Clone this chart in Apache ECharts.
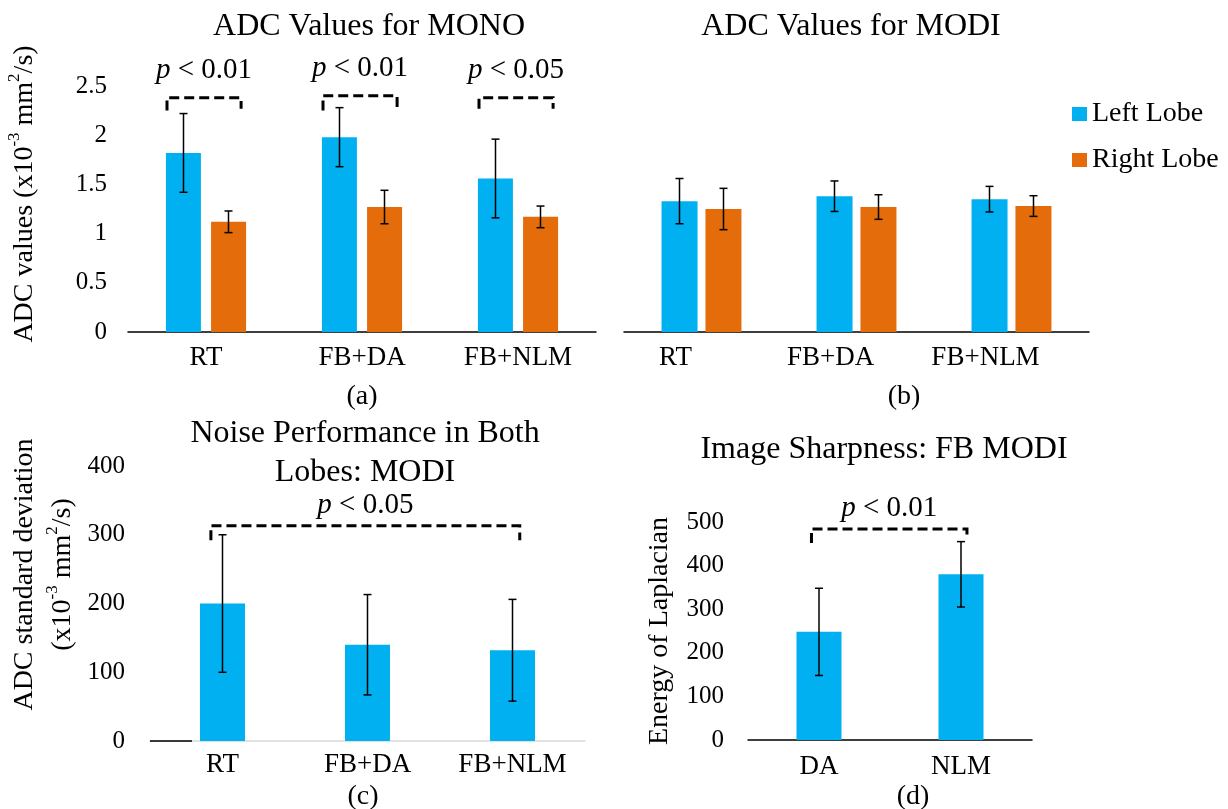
<!DOCTYPE html>
<html lang="en">
<head>
  <meta charset="UTF-8">
  <title>ADC Values, Noise and Sharpness</title>
  <script src="https://cdn.jsdelivr.net/npm/echarts@6/dist/echarts.min.js"></script>
  <style>
    html, body { margin: 0; padding: 0; background: #fff; }
    #chart { width: 1228px; height: 809px; }
  </style>
</head>
<body>
  <div id="chart"></div>

<script>
  // data
  const methods = ['RT', 'FB+DA', 'FB+NLM']
  const monoLeft = [1.82, 1.98, 1.56]
  const monoLeftSd = [0.40, 0.30, 0.40]
  const monoRight = [1.12, 1.27, 1.17]
  const monoRightSd = [0.11, 0.17, 0.11]
  const modiLeft = [1.33, 1.38, 1.35]
  const modiLeftSd = [0.23, 0.155, 0.13]
  const modiRight = [1.25, 1.27, 1.28]
  const modiRightSd = [0.21, 0.125, 0.105]
  const noiseVals = [200, 140, 132]
  const noiseSd = [100, 73, 74]
  const sharpCats = ['DA', 'NLM']
  const sharpVals = [248, 380]
  const sharpSd = [100, 75]

  // brackets: [fromCat, toCat, top, leftLegEnd, rightLegEnd]
  const monoBrackets = [[0, 0, 2.38, 2.25, 2.27], [1, 1, 2.40, 2.25, 2.28], [2, 2, 2.38, 2.27, 2.27]]
  const monoP = ['0.01', '0.01', '0.05']
  const noiseBrackets = [[0, 2, 313, 292, 292]]
  const noiseP = ['0.05']
  const sharpBrackets = [[0, 1, 484, 452, 466]]
  const sharpP = ['0.01']

  const FONT = "'Liberation Serif', 'Times New Roman', serif"
  const BLUE = '#00B0F0'
  const ORANGE = '#E46C0A'

  function errData(vals, sd) {
    return vals.map((v, i) => [i, v - sd[i], v + sd[i]])
  }

  function errorBars(offset) {
    return function (params, api) {
      const i = api.value(0)
      const lo = api.coord([i, api.value(1)])
      const hi = api.coord([i, api.value(2)])
      const x = lo[0] + offset
      const st = { stroke: '#000', lineWidth: 1.5 }
      return {
        type: 'group',
        children: [
          { type: 'line', shape: { x1: x, y1: lo[1], x2: x, y2: hi[1] }, style: st },
          { type: 'line', shape: { x1: x - 4, y1: lo[1], x2: x + 4, y2: lo[1] }, style: st },
          { type: 'line', shape: { x1: x - 4, y1: hi[1], x2: x + 4, y2: hi[1] }, style: st }
        ]
      }
    }
  }

  function brackets(labels, offL, offR, gap) {
    return function (params, api) {
      const band = api.size([1, 0])[0]
      const pL = api.coord([api.value(0), api.value(2)])
      const pR = api.coord([api.value(1), api.value(2)])
      const xL = pL[0] + offL * band
      const xR = pR[0] + offR * band
      const yTop = pL[1]
      const yL = api.coord([api.value(0), api.value(3)])[1]
      const yR = api.coord([api.value(1), api.value(4)])[1]
      return {
        type: 'group',
        children: [
          {
            type: 'polyline',
            shape: { points: [[xL, yL], [xL, yTop], [xR, yTop], [xR, yR]] },
            style: { stroke: '#000', lineWidth: 3, lineDash: [10, 5], fill: null }
          },
          {
            type: 'text',
            x: (xL + xR) / 2,
            y: yTop - gap,
            style: {
              text: '{i|p}{n| < ' + labels[params.dataIndex] + '}',
              rich: {
                i: { fontStyle: 'italic', fontSize: 29, fontFamily: FONT, fill: '#000' },
                n: { fontSize: 29, fontFamily: FONT, fill: '#000' }
              },
              align: 'center',
              verticalAlign: 'middle'
            }
          }
        ]
      }
    }
  }

  const richName = {
    n: { fontSize: 28, fontFamily: FONT, color: '#000', lineHeight: 38 },
    sup: { fontSize: 17, fontFamily: FONT, color: '#000', verticalAlign: 'top', lineHeight: 26 }
  }

  function catAxis(grid, data, lineColor, extraLabel) {
    return {
      type: 'category', gridIndex: grid, data: data,
      axisTick: { show: false },
      axisLine: { lineStyle: { color: lineColor, width: 1.5 } },
      axisLabel: Object.assign({ fontSize: 27, fontFamily: FONT, color: '#000', margin: 12 }, extraLabel || {})
    }
  }

  function valAxis(grid, max, interval, show) {
    return {
      type: 'value', gridIndex: grid, min: 0, max: max, interval: interval,
      splitLine: { show: false },
      axisLine: { show: false },
      axisTick: { show: false },
      axisLabel: { show: show, fontSize: 25, fontFamily: FONT, color: '#000', margin: 21 }
    }
  }

  const yA = valAxis(0, 2.5, 0.5, true)
  yA.name = '{n|ADC values (x10}{sup|-3}{n| mm}{sup|2}{n|/s)}'
  yA.nameLocation = 'middle'
  yA.nameRotate = 90
  yA.nameGap = 84
  yA.nameTextStyle = { rich: richName, padding: [0, 0, 0, 30] }

  const yB = valAxis(1, 2.5, 0.5, false)

  const yC = valAxis(2, 400, 100, true)
  yC.axisLabel.margin = 25
  yC.name = '{n|ADC standard deviation}\n{n|(x10}{sup|-3}{n| mm}{sup|2}{n|/s)}'
  yC.nameLocation = 'middle'
  yC.nameRotate = 90
  yC.nameGap = 68
  yC.nameTextStyle = { rich: richName, padding: [0, 0, 0, 58] }

  const yD = valAxis(3, 500, 100, true)
  yD.axisLabel.margin = 24
  yD.name = 'Energy of Laplacian'
  yD.nameLocation = 'middle'
  yD.nameRotate = 90
  yD.nameGap = 74
  yD.nameTextStyle = { fontSize: 28, fontFamily: FONT, color: '#000' }

  function label(text, x, y, size) {
    return {
      type: 'text', x: x, y: y,
      style: { text: text, fontSize: size, fontFamily: FONT, fill: '#000', align: 'center', verticalAlign: 'middle', lineHeight: 39 }
    }
  }

  const option = {
    animation: false,
    backgroundColor: '#fff',
    legend: {
      data: ['Left Lobe', 'Right Lobe'],
      orient: 'vertical', left: 1072, top: 99, padding: 0,
      itemWidth: 15, itemHeight: 14, itemGap: 16, icon: 'rect',
      textStyle: { fontSize: 28, fontFamily: FONT, color: '#000', lineHeight: 30 }
    },
    graphic: [
      label('ADC Values for MONO', 369, 27, 32),
      label('ADC Values for MODI', 851, 27, 32),
      label('Noise Performance in Both\nLobes: MODI', 365, 453, 32),
      label('Image Sharpness: FB MODI', 884, 450, 32),
      label('(a)', 362, 397, 28),
      label('(b)', 904, 397, 28),
      label('(c)', 363, 797, 28),
      label('(d)', 913, 797, 28),
      { type: 'line', z: 100, shape: { x1: 150, y1: 741, x2: 192, y2: 741 }, style: { stroke: '#000', lineWidth: 1.5 } }
    ],
    grid: [
      { left: 128, top: 86, width: 468, height: 246 },
      { left: 624, top: 86, width: 465, height: 246 },
      { left: 150, top: 466, width: 435, height: 275 },
      { left: 748, top: 522, width: 284, height: 218 }
    ],
    xAxis: [
      catAxis(0, methods, '#000'),
      catAxis(1, methods, '#000', { padding: [0, 52, 0, 0] }),
      catAxis(2, methods, '#D9D9D9', { margin: 10 }),
      catAxis(3, sharpCats, '#000', { margin: 13 })
    ],
    yAxis: [yA, yB, yC, yD],
    series: [
      { type: 'bar', name: 'Left Lobe', xAxisIndex: 0, yAxisIndex: 0, data: monoLeft, barWidth: 35, barGap: '29%', itemStyle: { color: BLUE } },
      { type: 'bar', name: 'Right Lobe', xAxisIndex: 0, yAxisIndex: 0, data: monoRight, barWidth: 35, barGap: '29%', itemStyle: { color: ORANGE } },
      { type: 'custom', xAxisIndex: 0, yAxisIndex: 0, data: errData(monoLeft, monoLeftSd), renderItem: errorBars(-22.5), encode: { x: 0, y: [1, 2] }, z: 5 },
      { type: 'custom', xAxisIndex: 0, yAxisIndex: 0, data: errData(monoRight, monoRightSd), renderItem: errorBars(22.5), encode: { x: 0, y: [1, 2] }, z: 5 },
      { type: 'custom', xAxisIndex: 0, yAxisIndex: 0, data: monoBrackets, renderItem: brackets(monoP, -0.25, 0.225, 27), encode: { x: [0, 1], y: [2, 3, 4] }, clip: false, z: 5 },

      { type: 'bar', name: 'Left Lobe', xAxisIndex: 1, yAxisIndex: 1, data: modiLeft, barWidth: 36, barGap: '22%', itemStyle: { color: BLUE } },
      { type: 'bar', name: 'Right Lobe', xAxisIndex: 1, yAxisIndex: 1, data: modiRight, barWidth: 36, barGap: '22%', itemStyle: { color: ORANGE } },
      { type: 'custom', xAxisIndex: 1, yAxisIndex: 1, data: errData(modiLeft, modiLeftSd), renderItem: errorBars(-22), encode: { x: 0, y: [1, 2] }, z: 5 },
      { type: 'custom', xAxisIndex: 1, yAxisIndex: 1, data: errData(modiRight, modiRightSd), renderItem: errorBars(22), encode: { x: 0, y: [1, 2] }, z: 5 },

      { type: 'bar', name: 'Noise', xAxisIndex: 2, yAxisIndex: 2, data: noiseVals, barWidth: 45, itemStyle: { color: BLUE } },
      { type: 'custom', xAxisIndex: 2, yAxisIndex: 2, data: errData(noiseVals, noiseSd), renderItem: errorBars(0), encode: { x: 0, y: [1, 2] }, z: 5 },
      { type: 'custom', xAxisIndex: 2, yAxisIndex: 2, data: noiseBrackets, renderItem: brackets(noiseP, -0.08, 0.05, 20), encode: { x: [0, 1], y: [2, 3, 4] }, clip: false, z: 5 },

      { type: 'bar', name: 'Sharpness', xAxisIndex: 3, yAxisIndex: 3, data: sharpVals, barWidth: 45, itemStyle: { color: BLUE } },
      { type: 'custom', xAxisIndex: 3, yAxisIndex: 3, data: errData(sharpVals, sharpSd), renderItem: errorBars(0), encode: { x: 0, y: [1, 2] }, z: 5 },
      { type: 'custom', xAxisIndex: 3, yAxisIndex: 3, data: sharpBrackets, renderItem: brackets(sharpP, -0.053, 0.042, 21), encode: { x: [0, 1], y: [2, 3, 4] }, clip: false, z: 5 }
    ]
  }

  const myChart = echarts.init(document.getElementById('chart'))
  myChart.setOption(option)
</script>
</body>
</html>
